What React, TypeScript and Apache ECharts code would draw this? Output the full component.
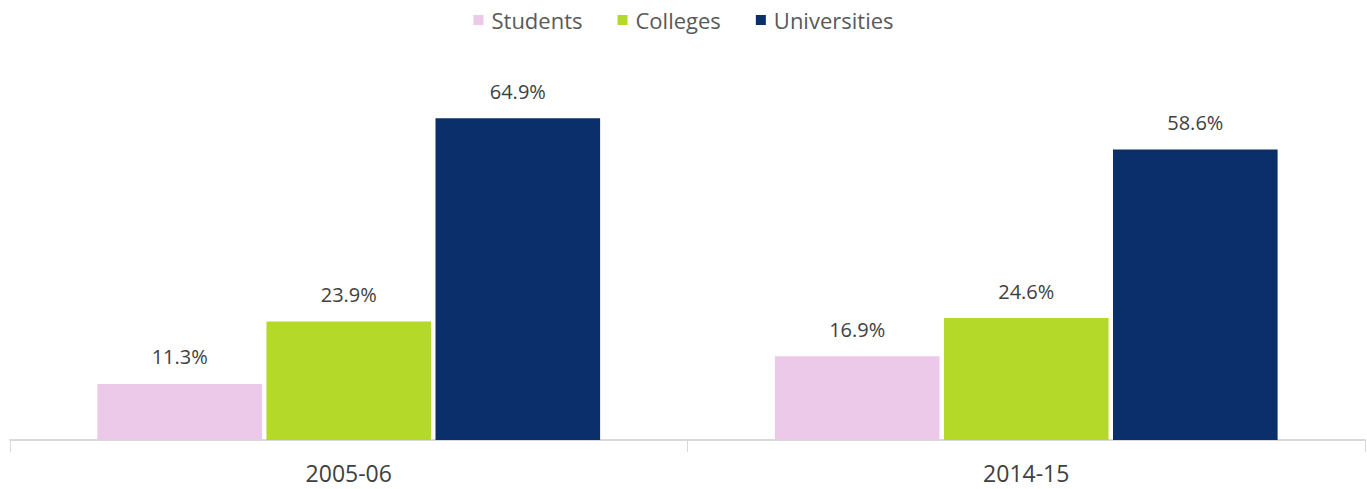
import React, { useEffect, useRef } from "react";
import * as echarts from "echarts";

const categories = ["2005-06", "2014-15"];
const students = [11.3, 16.9];
const colleges = [23.9, 24.6];
const universities = [64.9, 58.6];

const FONT = "'Open Sans', 'Noto Sans', sans-serif";

export default function App() {
  const ref = useRef<HTMLDivElement>(null);
  useEffect(() => {
    const chart = echarts.init(ref.current!, null, { renderer: "svg" });
    const label = {
      show: true,
      position: "top" as const,
      distance: 17,
      color: "#404040",
      fontSize: 20,
      fontFamily: FONT,
      formatter: (p: any) => p.value.toFixed(1) + "%",
    };
    chart.setOption({
      animation: false,
      textStyle: { fontFamily: FONT },
      legend: {
        top: 4,
        left: "center",
        itemWidth: 10,
        itemHeight: 10,
        itemGap: 35,
        icon: "rect",
        textStyle: { color: "#595959", fontSize: 22, fontFamily: FONT, padding: [0, 0, 0, 3] },
        data: ["Students", "Colleges", "Universities"],
      },
      grid: { left: 10, right: 2, top: 93, bottom: 49 },
      xAxis: {
        type: "category",
        data: categories,
        axisLine: { lineStyle: { color: "#d9d9d9", width: 2 } },
        axisTick: { show: true, length: 12, lineStyle: { color: "#d9d9d9", width: 1 } },
        axisLabel: { color: "#404040", fontSize: 23, margin: 21, fontFamily: FONT },
      },
      yAxis: {
        type: "value",
        min: 0,
        max: 70,
        show: false,
        splitLine: { show: false },
      },
      series: [
        {
          name: "Students",
          type: "bar",
          data: students,
          itemStyle: { color: "#ecc9e8" },
          barGap: "2.7%",
          barCategoryGap: "25.8%",
          label,
        },
        {
          name: "Colleges",
          type: "bar",
          data: colleges,
          itemStyle: { color: "#b5d928" },
          label,
        },
        {
          name: "Universities",
          type: "bar",
          data: universities,
          itemStyle: { color: "#0a2f6a" },
          label,
        },
      ],
    });
    return () => chart.dispose();
  }, []);
  return <div ref={ref} style={{ width: 1367, height: 489, position: "absolute", left: 0, top: 0 }} />;
}
